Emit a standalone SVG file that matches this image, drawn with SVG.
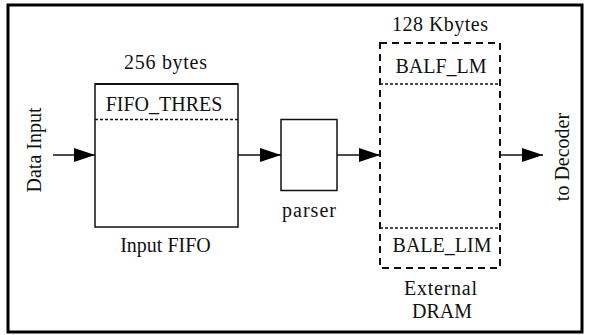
<svg xmlns="http://www.w3.org/2000/svg" width="590" height="335" viewBox="0 0 590 335">
<style>
text{font-family:"Liberation Serif","Times New Roman",serif;font-size:20px;fill:#111}
.c{text-anchor:middle}
.box{fill:#fff;stroke:#111;stroke-width:1.5}
.ln{stroke:#111;stroke-width:1.5;fill:none}
.long{stroke:#111;stroke-width:2;fill:none;stroke-dasharray:7 5}
.short{stroke:#111;stroke-width:1.5;fill:none;stroke-dasharray:3 2}
</style>
<defs>
<marker id="ah" markerUnits="userSpaceOnUse" markerWidth="22" markerHeight="16" refX="21" refY="7" orient="auto">
<path d="M0,0 L21,7 L0,14 Z" fill="#000"/>
</marker>
</defs>
<rect x="8" y="5" width="574" height="327" fill="#fff" stroke="#000" stroke-width="3"/>
<g id="connectors">
<line class="ln" x1="53" y1="155" x2="95" y2="155" marker-end="url(#ah)"/>
<line class="ln" x1="238" y1="155" x2="281" y2="155" marker-end="url(#ah)"/>
<line class="ln" x1="337" y1="155" x2="380" y2="155" marker-end="url(#ah)"/>
<line class="ln" x1="500" y1="155" x2="543" y2="155" marker-end="url(#ah)"/>
</g>
<g id="data-input">
<text class="c" transform="translate(41,150) rotate(-90)">Data Input</text>
</g>
<g id="input-fifo">
<text class="c" x="165.5" y="69" textLength="83" lengthAdjust="spacing">256 bytes</text>
<rect class="box" x="95" y="84" width="143" height="143"/>
<line x1="95" y1="84" x2="238" y2="84" stroke="#111" stroke-width="2"/>
<line class="short" x1="95" y1="119.5" x2="238" y2="119.5"/>
<text class="c" x="164" y="111">FIFO_THRES</text>
<text class="c" x="165.5" y="252">Input FIFO</text>
</g>
<g id="parser">
<rect class="box" x="281" y="119.5" width="56" height="71"/>
<text class="c" x="309" y="217" textLength="54" lengthAdjust="spacing">parser</text>
</g>
<g id="external-dram">
<text class="c" x="440" y="31" textLength="96" lengthAdjust="spacing">128 Kbytes</text>
<rect class="long" x="380" y="43" width="120" height="225"/>
<line class="short" x1="380" y1="84" x2="500" y2="84"/>
<line class="short" x1="380" y1="228" x2="500" y2="228"/>
<text class="c" x="441" y="73">BALF_LM</text>
<text class="c" x="442" y="252">BALE_LIM</text>
<text class="c" x="440.5" y="295" textLength="73" lengthAdjust="spacing">External</text>
<text class="c" x="442" y="318">DRAM</text>
</g>
<g id="to-decoder">
<text class="c" transform="translate(569,157) rotate(-90)">to Decoder</text>
</g>
</svg>
